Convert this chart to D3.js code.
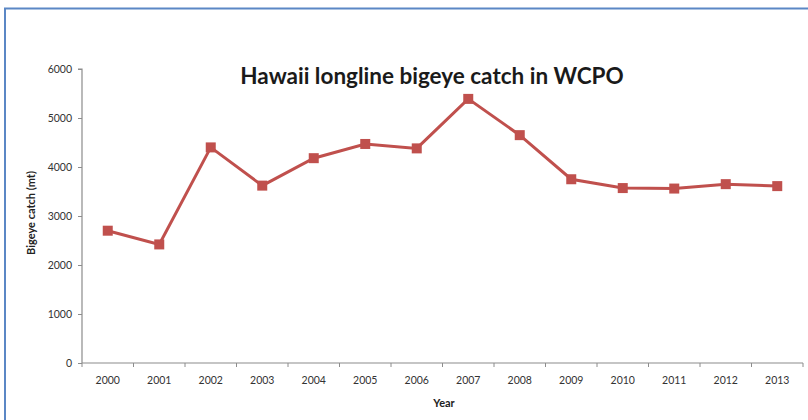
<!DOCTYPE html>
<html>
<head>
<meta charset="utf-8">
<script src="https://cdn.jsdelivr.net/npm/d3@7"></script>
<style>
  html, body { margin: 0; padding: 0; background: #fff; }
  svg { display: block; }
</style>
</head>
<body>
<div id="chart"></div>
<script>
const years = ['2000', '2001', '2002', '2003', '2004', '2005', '2006', '2007', '2008', '2009', '2010', '2011', '2012', '2013']
const catchMt = [2700, 2420, 4400, 3620, 4180, 4470, 4380, 5390, 4650, 3750, 3570, 3560, 3650, 3610]
const yTicks = [0, 1000, 2000, 3000, 4000, 5000, 6000]

const width = 808
const height = 420
const font = 'Lato, "Open Sans", sans-serif'
const red = '#c0504d'

const svg = d3.select('#chart').append('svg')
  .attr('width', width)
  .attr('height', height)

// frame
svg.append('path')
  .attr('d', `M5,${height} V8.5 H${width}`)
  .attr('fill', 'none')
  .attr('stroke', '#5b87c5')
  .attr('stroke-width', 2)

const x = d3.scaleBand().domain(years).range([82, 803])
const y = d3.scaleLinear().domain([0, 6000]).range([363, 69])

const xAxis = svg.append('g')
  .attr('transform', `translate(0,${y(0)})`)
  .call(d3.axisBottom(x).tickSize(0).tickPadding(14))
xAxis.selectAll('.tick text')
  .attr('font-size', 10.5).attr('fill', '#333').style('font-family', font)
// ticks between categories
xAxis.selectAll('line.sep')
  .data(years.concat(['end']))
  .enter().append('line')
  .attr('class', 'sep')
  .attr('x1', (d, i) => x.range()[0] + i * x.step())
  .attr('x2', (d, i) => x.range()[0] + i * x.step())
  .attr('y1', 0).attr('y2', 4)
  .attr('stroke', '#8c8c8c')

const yAxis = svg.append('g')
  .attr('transform', `translate(82,0)`)
  .call(d3.axisLeft(y).tickValues(yTicks).tickSize(4).tickPadding(6).tickFormat(d3.format('d')))
yAxis.selectAll('.tick text')
  .attr('font-size', 10.5).attr('fill', '#333').style('font-family', font)
svg.selectAll('.domain').attr('stroke', '#8c8c8c').attr('stroke-width', 1.2)
svg.selectAll('.tick line').attr('stroke', '#8c8c8c')
xAxis.select('.domain').attr('d', `M82,0H803`)
yAxis.select('.domain').attr('d', `M-4,${y(6000)}H0V${y(0)}`)

const line = d3.line()
  .x((d, i) => x(years[i]) + x.bandwidth() / 2)
  .y(d => y(d))

svg.append('path')
  .datum(catchMt)
  .attr('d', line)
  .attr('fill', 'none')
  .attr('stroke', red)
  .attr('stroke-width', 3)

svg.selectAll('rect.mark')
  .data(catchMt)
  .enter().append('rect')
  .attr('class', 'mark')
  .attr('x', (d, i) => x(years[i]) + x.bandwidth() / 2 - 5)
  .attr('y', d => y(d) - 5)
  .attr('width', 10)
  .attr('height', 10)
  .attr('fill', red)

svg.append('text')
  .attr('x', 432).attr('y', 84)
  .attr('text-anchor', 'middle')
  .attr('font-size', 22.5).attr('font-weight', 'bold')
  .attr('fill', '#1a1a1a')
  .style('font-family', font)
  .text('Hawaii longline bigeye catch in WCPO')

svg.append('text')
  .attr('x', 444).attr('y', 407)
  .attr('text-anchor', 'middle')
  .attr('font-size', 11).attr('font-weight', 'bold')
  .attr('fill', '#222')
  .style('font-family', font)
  .text('Year')

svg.append('text')
  .attr('transform', 'translate(35,213) rotate(-90)')
  .attr('text-anchor', 'middle')
  .attr('font-size', 11).attr('font-weight', 'bold')
  .attr('fill', '#222')
  .style('font-family', font)
  .text('Bigeye catch (mt)')
</script>
</body>
</html>
